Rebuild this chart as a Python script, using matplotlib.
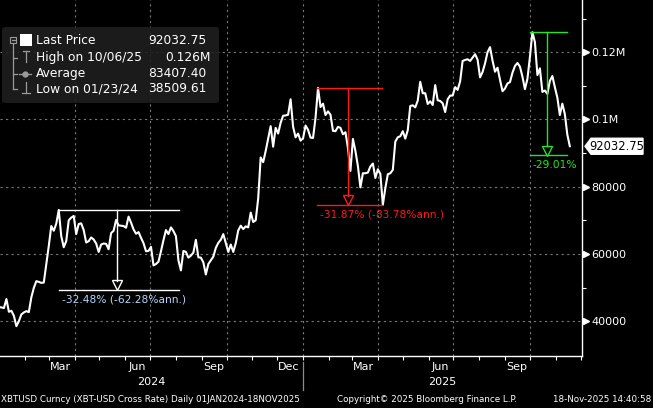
import numpy as np
import pandas as pd
import matplotlib
matplotlib.use("Agg")
from matplotlib import pyplot as plt
from matplotlib.patches import Polygon, FancyBboxPatch, Rectangle
from matplotlib.lines import Line2D

# XBTUSD last price, one value every 3rd day from 01-Jan-2024 to 18-Nov-2025
start_date = "2024-01-01"
step_days = 3
prices = [
    44200, 44100, 43900, 46600, 42800, 43100, 41600, 38510, 40000, 42000,
    42600, 43000, 42700, 47100, 49900, 51900, 51700, 51400, 51500, 57000,
    62400, 68300, 66900, 69000, 73080, 65300, 62000, 63800, 70000, 70800,
    71300, 65900, 68900, 69100, 67100, 63400, 63800, 64900, 64300, 63100,
    60600, 62800, 63100, 63000, 61400, 66200, 66900, 70100, 68500, 68400,
    68300, 67800, 71100, 69300, 67300, 66000, 66500, 64800, 63200, 60800,
    60900, 62100, 56600, 57000, 57700, 60800, 64100, 67100, 65900, 67900,
    66800, 65300, 58100, 55100, 60900, 60600, 58900, 59500, 60400, 64200,
    59000, 58900, 57500, 53900, 57000, 58100, 59200, 61800, 63300, 64200,
    65900, 63300, 60600, 62800, 60600, 63200, 67000, 68400, 67400, 68200,
    67900, 72300, 69500, 70000, 76500, 88700, 87300, 90600, 94300, 98000,
    91900, 97500, 95800, 99000, 101100, 101200, 101400, 106000, 97800, 94700,
    95800, 93700, 94400, 98200, 96900, 94600, 94500, 100500, 109400, 103700,
    104700, 101300, 102400, 101400, 96600, 96500, 97800, 97500, 95600, 96200,
    91500, 84700, 94200, 90600, 86100, 79800, 84000, 84000, 84200, 86000,
    86900, 82600, 85200, 83800, 74600, 79600, 83700, 84000, 85000, 93400,
    94700, 95000, 96500, 94300, 96800, 104000, 104200, 103600, 105600, 111200,
    107800, 107800, 104600, 105400, 104300, 110200, 105700, 105500, 104800, 102200,
    106000, 107100, 107100, 109600, 108800, 111300, 117400, 117700, 117900, 117400,
    118400, 119400, 117800, 112500, 114100, 116700, 120000, 121500, 117500, 114200,
    115400, 111800, 108400, 109200, 110700, 111100, 113900, 115900, 116800, 115700,
    112700, 109000, 112100, 118600, 125950, 123000, 113200, 115200, 108200, 108600,
    107600, 111500, 112900, 109600, 106500, 101300, 104700, 101600, 95500, 92032.75,
]
last_price = 92032.75

legend_names = ["Last Price", "High on 10/06/25", "Average", "Low on 01/23/24"]
legend_values = ["92032.75", "0.126M", "83407.40", "38509.61"]

y_major = [40000, 60000, 80000, 100000, 120000]
y_major_labels = ["40000", "60000", "80000", "0.1M", "0.12M"]
y_minor = [50000, 70000, 90000, 110000, 130000]

month_labels = ["Mar", "Jun", "Sep", "Dec", "Mar", "Jun", "Sep"]
month_label_dates = ["2024-03-15", "2024-06-15", "2024-09-15", "2024-12-15",
                     "2025-03-15", "2025-06-15", "2025-09-15"]
quarter_lines = ["2024-04-01", "2024-07-01", "2024-10-01", "2025-01-01",
                 "2025-04-01", "2025-07-01", "2025-10-01"]

# drawdown annotations
dd_labels = ["-32.48% (-62.28%ann.)", "-31.87% (-83.78%ann.)", "-29.01%"]
dd_high = [73080, 109435, 125950]
dd_low = [49344, 74558, 89412]
dd_start = ["2024-03-13", "2025-01-18", "2025-10-01"]
dd_end = ["2024-08-05", "2025-04-06", "2025-11-15"]
dd_mid = ["2024-05-22", "2025-02-24", "2025-10-22"]
dd_colors = ["white", "#ff1a1a", "#22e622"]
dd_text_colors = ["#b4d8ff", "#ff1a1a", "#22e622"]

W, H = 653, 408
def fx(x):
    return x / W
def fy(y):
    return 1 - y / H

plt.rcParams["font.family"] = ["DejaVu Sans"]
fig = plt.figure(figsize=(W / 100, H / 100), dpi=100, facecolor="black")
ax = fig.add_axes([0, 52 / H, 582 / W, 356 / H], facecolor="black")

dates = pd.date_range(start_date, periods=len(prices), freq=f"{step_days}D")
ax.plot(dates, prices, color="white", lw=1.5, zorder=3)

xmin = pd.Timestamp("2024-01-02 07:00")
xmax = pd.Timestamp("2025-12-02 16:00")
ax.set_xlim(xmin, xmax)
ax.set_ylim(29650, 135525)

grid_kw = dict(color="#777777", lw=0.8, linestyle=(0, (2, 3)), zorder=1)
for v in y_major:
    ax.axhline(v, **grid_kw)
for d in quarter_lines:
    ax.axvline(pd.Timestamp(d), **grid_kw)

for s in ["left", "top"]:
    ax.spines[s].set_visible(False)
for s in ["right", "bottom"]:
    ax.spines[s].set_color("white")
    ax.spines[s].set_linewidth(1.0)

# y axis on the right
ax.yaxis.tick_right()
ax.set_yticks(y_major)
ax.set_yticklabels(y_major_labels)
ax.set_yticks(y_minor, minor=True)
ax.tick_params(axis="y", which="major", length=0, pad=7, labelcolor="white", labelsize=8)
ax.tick_params(axis="y", which="minor", length=3, width=0.8, color="white", direction="out")
ax.plot([1.0075] * len(y_major), y_major, transform=ax.get_yaxis_transform(),
        marker=">", ms=5, color="white", ls="none", clip_on=False)

# x axis: month ticks, labels at mid-month
month_starts = pd.date_range("2024-02-01", "2025-12-01", freq="MS")
ax.set_xticks(month_starts)
ax.set_xticklabels([])
ax.tick_params(axis="x", which="major", length=3, width=0.8, color="white", direction="out")
xt = ax.get_xaxis_transform()
for lab, d in zip(month_labels, month_label_dates):
    ax.text(pd.Timestamp(d), -0.030, lab, transform=xt, color="white", fontsize=8,
            ha="center", va="center")
year_split = pd.Timestamp("2025-01-01")
ax.text(xmin + (year_split - xmin) / 2, -0.073, "2024", transform=xt, color="white",
        fontsize=8, ha="center", va="center")
ax.text(year_split + (xmax - year_split) / 2, -0.073, "2025", transform=xt, color="white",
        fontsize=8, ha="center", va="center")
ax.plot([year_split, year_split], [-0.017, -0.095], transform=xt, color="#8c8c8c",
        lw=0.9, clip_on=False)

# drawdowns
for lab, hi, lo, s, e, m, c, tc in zip(dd_labels, dd_high, dd_low, dd_start, dd_end,
                                       dd_mid, dd_colors, dd_text_colors):
    s, e, m = pd.Timestamp(s), pd.Timestamp(e), pd.Timestamp(m)
    ax.plot([s, e], [hi, hi], color=c, lw=1.0, zorder=4)
    ax.plot([s, e], [lo, lo], color=c, lw=1.0, zorder=4)
    tri_h = 9 * (135525 - 29650) / 356
    ax.plot([m, m], [hi, lo + tri_h], color=c, lw=1.0, zorder=4)
    ax.plot([m], [lo + tri_h / 2], marker="v", ms=7, mfc="none", mec=c, mew=1.0, zorder=4)
    ax.annotate(lab, xy=(s, lo), xytext=(2, -7), textcoords="offset points",
                color=tc, fontsize=7.7, ha="left", va="center", zorder=5)

# last price tag
tip = ax.get_yaxis_transform().transform((1.0, last_price))
tag = np.array([[3, 0], [9, 8], [61, 8], [61, -8], [9, -8]]) + tip
ax.add_patch(Polygon(tag, closed=True, fc="white", ec="white", transform=None,
                     clip_on=False, zorder=6))
fig.text(fx(tip[0] + 35), (tip[1]) / H, f"{last_price:.2f}", color="black", fontsize=8.3,
         ha="center", va="center", zorder=7)

# legend panel
fig.patches.append(FancyBboxPatch((fx(2), fy(103)), fx(217), 76 / H,
                                  boxstyle="round,pad=0,rounding_size=0.006",
                                  transform=fig.transFigure, fc="#1f1f1f", ec="none",
                                  alpha=0.88, zorder=8))
gray = "#9a9a9a"
def seg(x0, y0, x1, y1, c=gray, lw=0.9):
    fig.add_artist(Line2D([fx(x0), fx(x1)], [fy(y0), fy(y1)], color=c, lw=lw, zorder=9))
fig.patches.append(Rectangle((fx(10), fy(43)), fx(6), 6 / H, transform=fig.transFigure,
                             fc="none", ec=gray, lw=0.8, zorder=9))
seg(11.5, 40, 14.5, 40)
seg(13, 43, 13, 89)
for ry in [57.7, 73.7, 89]:
    seg(13, ry, 17, ry)
fig.patches.append(Rectangle((fx(20), fy(46)), fx(12), 12 / H, transform=fig.transFigure,
                             fc="white", ec="none", zorder=9))
seg(22.5, 51, 29.5, 51)
seg(26, 51, 26, 62)
seg(19, 73.5, 31, 73.5)
fig.add_artist(Line2D([fx(25)], [fy(73.5)], marker="o", ms=3.5, color=gray, zorder=10))
seg(26, 82, 26, 92.5)
seg(22, 92.5, 30, 92.5)

row_y = [41, 57.7, 73.7, 89]
for i, (name, val) in enumerate(zip(legend_names, legend_values)):
    fig.text(fx(36), fy(row_y[i]), name, color="white", fontsize=8.8, ha="left",
             va="center", zorder=10)
    if val.endswith("M"):
        fig.text(fx(211), fy(row_y[i]), val, color="white", fontsize=8.8, ha="right",
                 va="center", zorder=10)
    else:
        fig.text(fx(148), fy(row_y[i]), val, color="white", fontsize=8.8, ha="left",
                 va="center", zorder=10)

# footer
fig.text(fx(1), fy(399), "XBTUSD Curncy (XBT-USD Cross Rate) Daily 01JAN2024-18NOV2025",
         color="white", fontsize=6.3, ha="left", va="center")
fig.text(fx(427), fy(399), "Copyright\u00a9 2025 Bloomberg Finance L.P.",
         color="white", fontsize=6.3, ha="center", va="center")
fig.text(fx(651), fy(399), "18-Nov-2025 14:40:58",
         color="white", fontsize=6.3, ha="right", va="center")

fig.savefig("out.png", dpi=100, facecolor="black")
